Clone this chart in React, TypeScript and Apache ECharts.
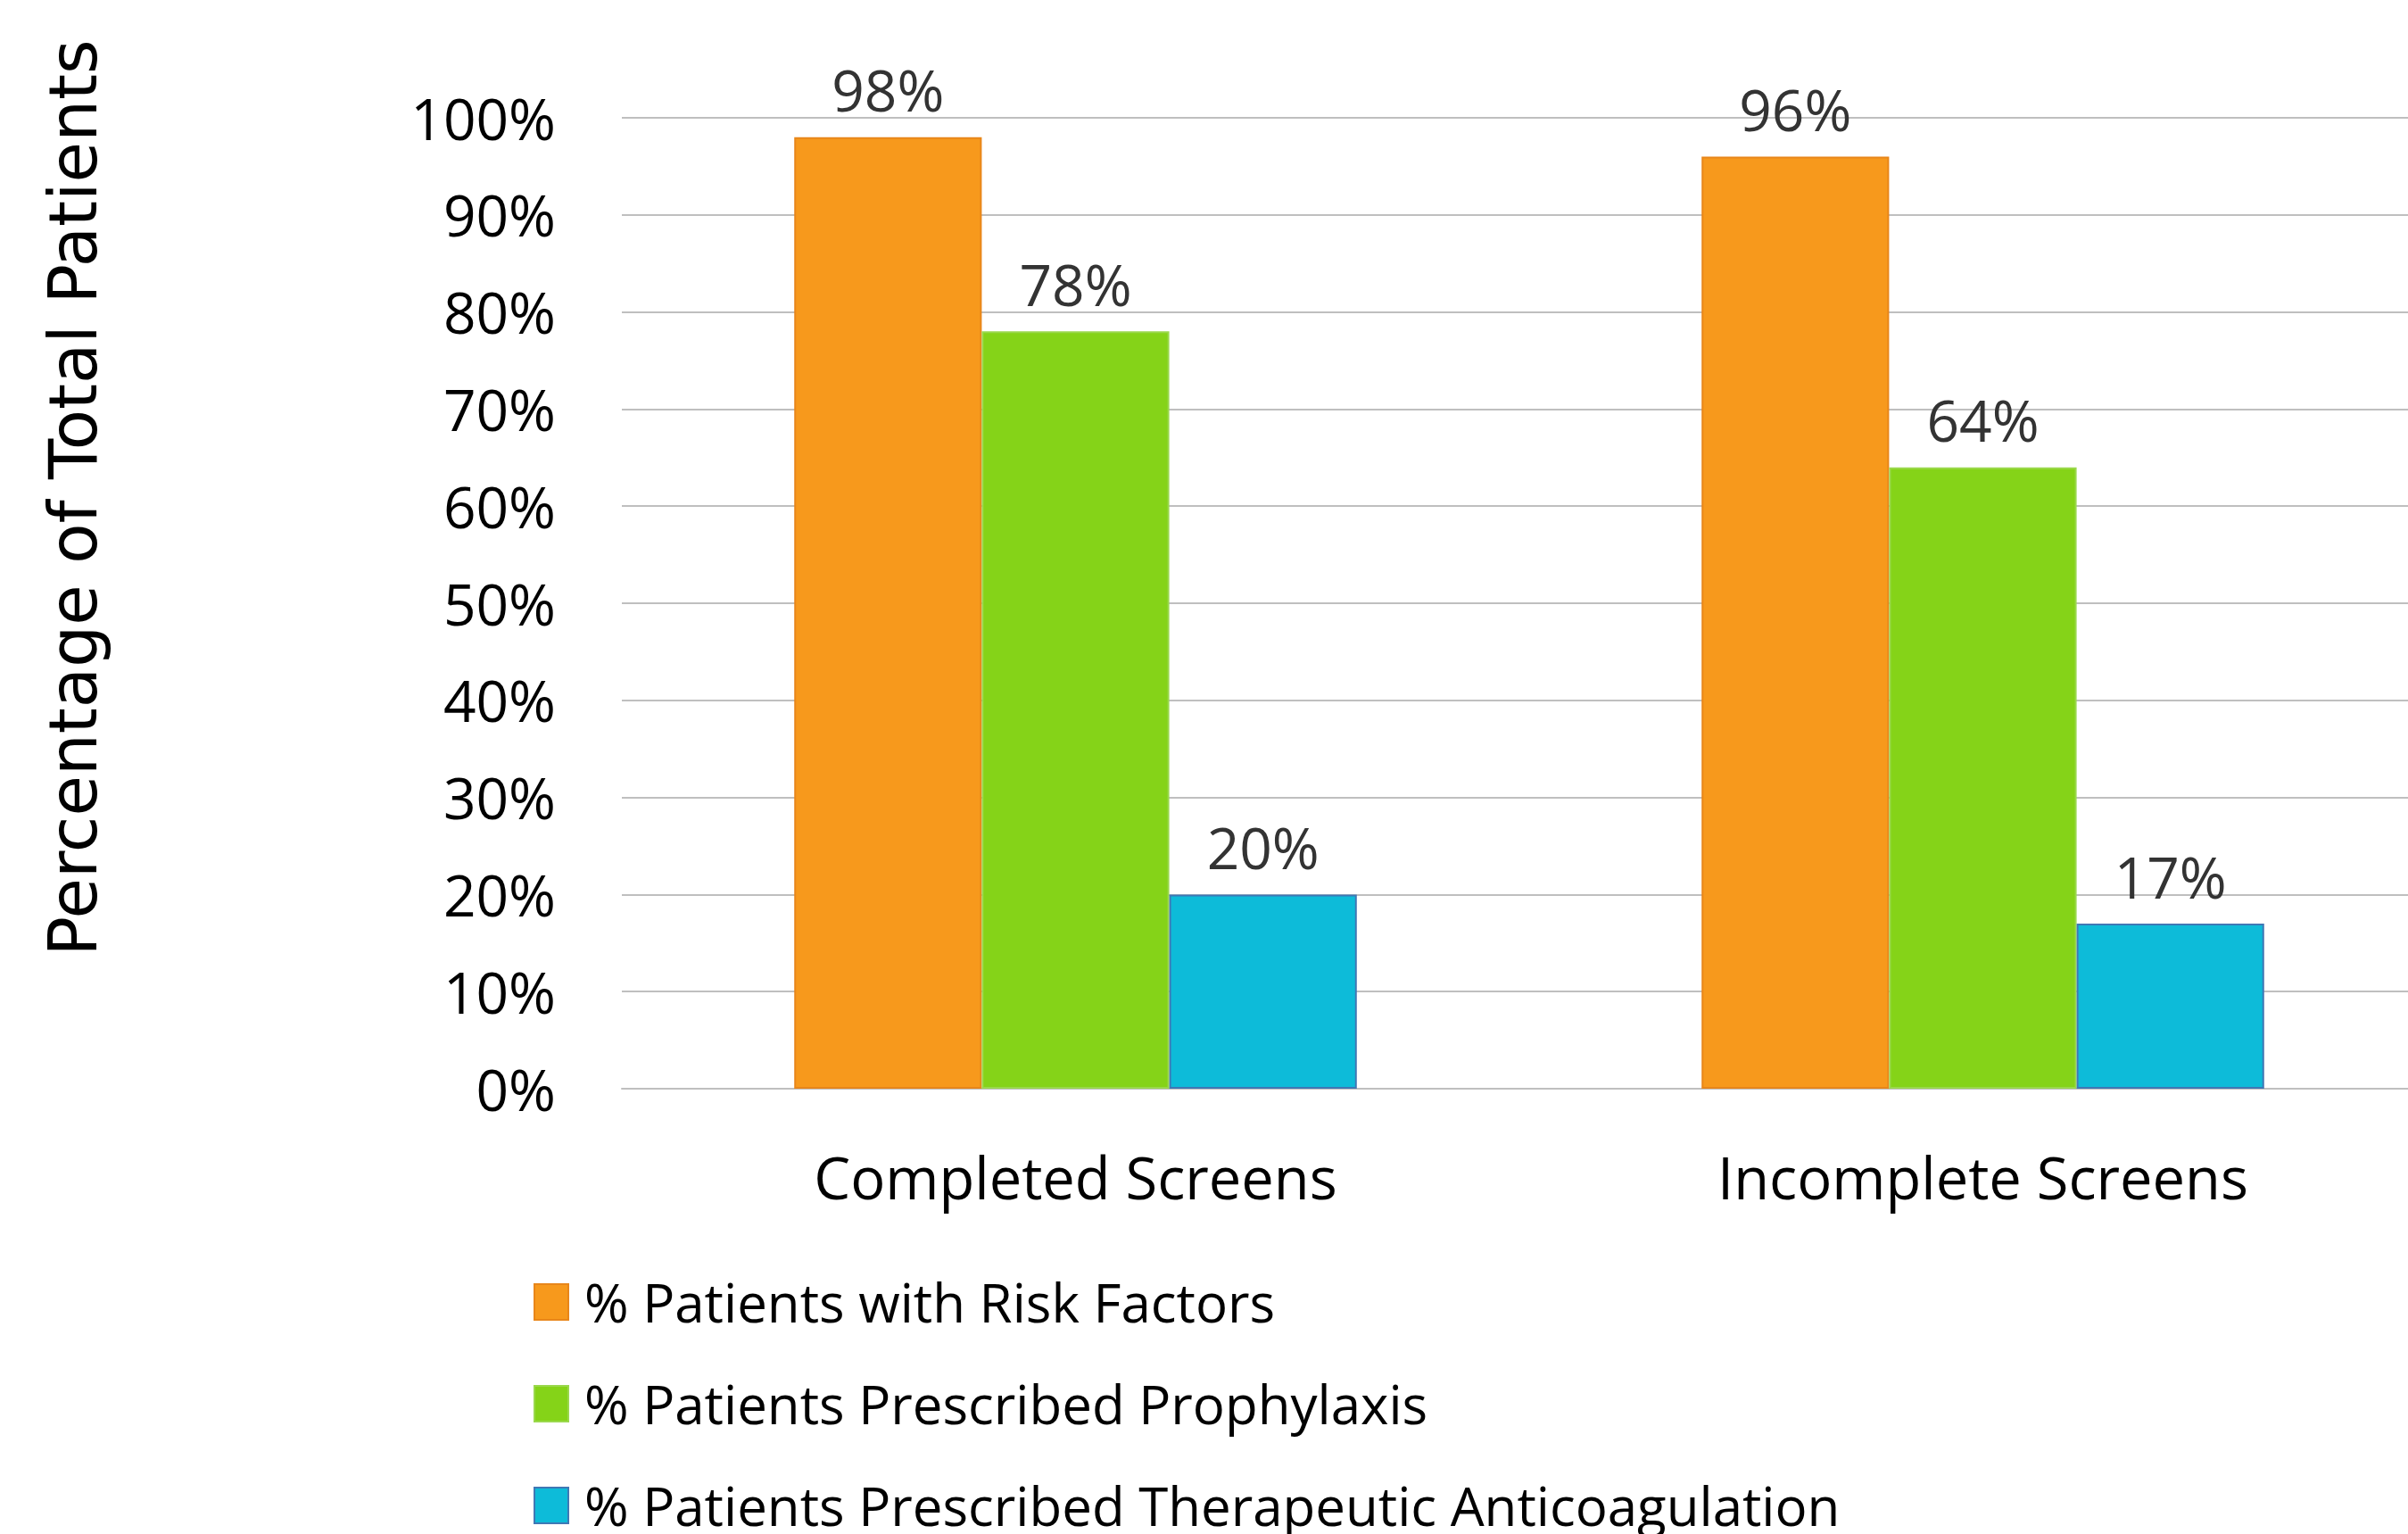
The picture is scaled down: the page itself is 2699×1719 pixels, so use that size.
import React, { useEffect, useRef } from "react";
import * as echarts from "echarts";

const categories = ["Completed Screens", "Incomplete Screens"];
const seriesNames = [
  "% Patients with Risk Factors",
  "% Patients Prescribed Prophylaxis",
  "% Patients Prescribed Therapeutic Anticoagulation",
];
const riskFactors = [98, 96];
const prophylaxis = [78, 64];
const anticoagulation = [20, 17];
const yTicks = { min: 0, max: 100, interval: 10 };
const yTitle = "Percentage of Total Patients";

const colors = ["#F7991C", "#85D318", "#0DBBD9"];
const borders = ["#E8861A", "#9AD84C", "#3F78B5"];

export default function App() {
  const ref = useRef<HTMLDivElement>(null);
  useEffect(() => {
    if (!ref.current) return;
    const chart = echarts.init(ref.current, undefined, { renderer: "svg" });
    const values = [riskFactors, prophylaxis, anticoagulation];
    const font = "'Open Sans', 'Noto Sans', sans-serif";
    chart.setOption({
      animation: false,
      backgroundColor: "#ffffff",
      grid: { left: 697, top: 132, width: 2034, height: 1088, containLabel: false },
      legend: {
        orient: "vertical",
        left: 598,
        top: 1429,
        height: 300,
        width: 1800,
        padding: 0,
        itemWidth: 38,
        itemHeight: 40,
        itemGap: 54,
        icon: "rect",
        data: seriesNames,
        textStyle: { fontFamily: font, fontSize: 60, color: "#000", lineHeight: 60, padding: [0, 0, 0, 13] },
      },
      xAxis: {
        type: "category",
        data: categories,
        axisLine: { show: true, lineStyle: { color: "#BFBFBF", width: 2 } },
        axisTick: { show: false },
        axisLabel: { fontFamily: font, fontSize: 65, color: "#000", margin: 66, lineHeight: 66 },
      },
      yAxis: {
        type: "value",
        min: yTicks.min,
        max: yTicks.max,
        interval: yTicks.interval,
        axisLine: { show: false },
        axisTick: { show: false },
        splitLine: { show: true, lineStyle: { color: "#BFBFBF", width: 2 } },
        axisLabel: { fontFamily: font, fontSize: 64, color: "#000", margin: 74, formatter: "{value}%" },
      },
      graphic: [
        {
          type: "text",
          x: 82,
          y: 558,
          rotation: Math.PI / 2,
          style: {
            text: yTitle,
            font: "74px 'DejaVu Sans', sans-serif",
            fill: "#000",
            textAlign: "center",
            textVerticalAlign: "middle",
          },
        },
      ],
      series: seriesNames.map((name, i) => ({
        name,
        type: "bar",
        data: values[i],
        barGap: "0%",
        barCategoryGap: "38%",
        itemStyle: { color: colors[i], borderColor: borders[i], borderWidth: 2 },
        label: {
          show: true,
          position: "top",
          distance: 21,
          formatter: "{c}%",
          fontFamily: font,
          fontSize: 64,
          color: "#333333",
        },
      })),
    });
    return () => chart.dispose();
  }, []);
  return (
    <div
      style={{
        position: "absolute",
        left: 0,
        top: 0,
        width: 2699,
        height: 1719,
        overflow: "hidden",
        background: "#fff",
      }}
    >
      <div ref={ref} style={{ width: 2760, height: 1719 }} />
    </div>
  );
}
